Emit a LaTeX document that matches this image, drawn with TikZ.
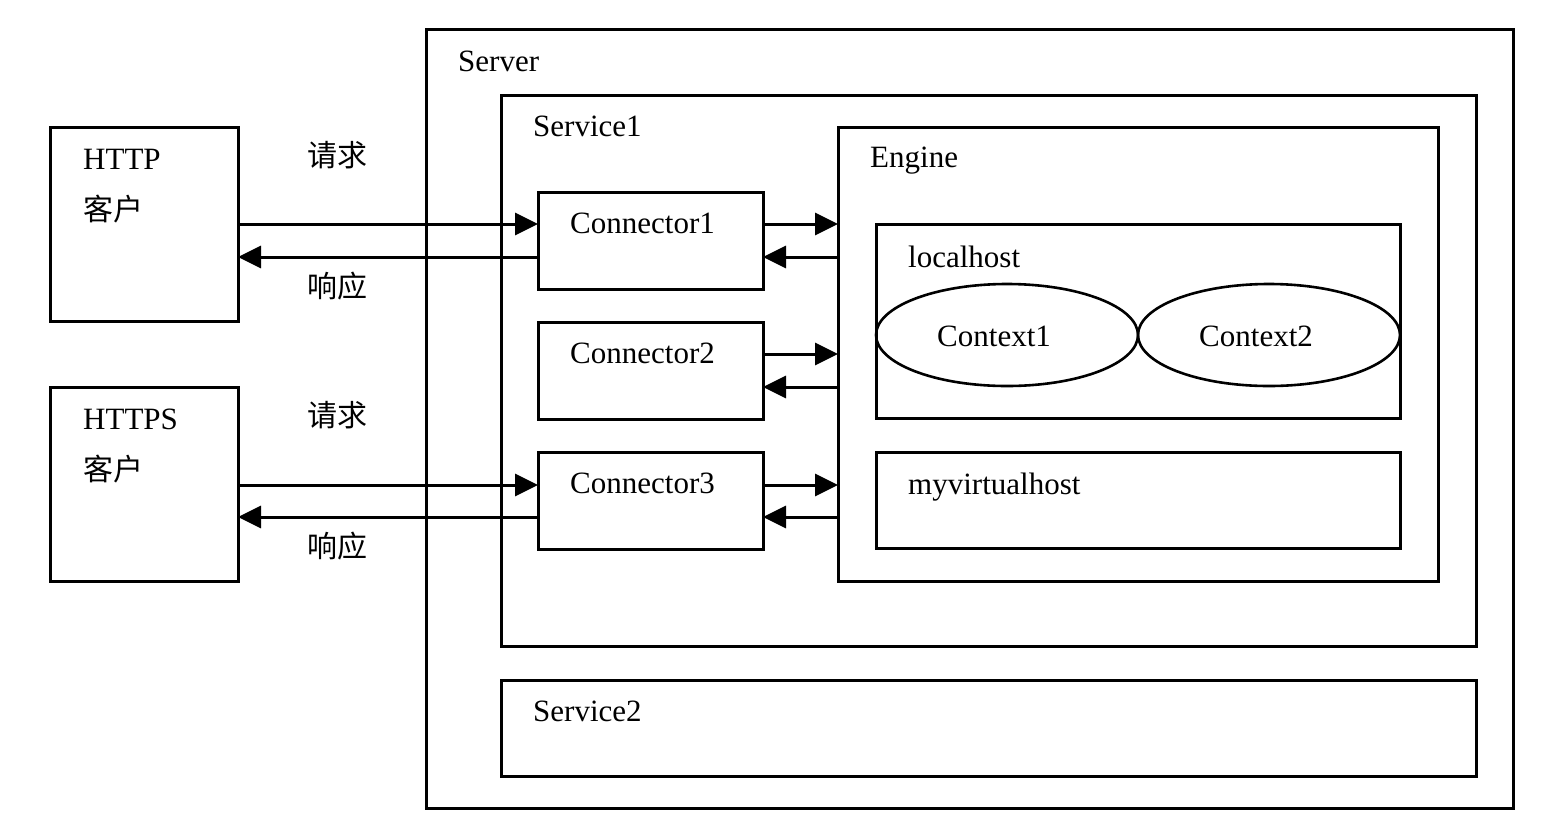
\documentclass[tikz,border=0pt]{standalone}
\usepackage{fontspec}
\setmainfont{Liberation Serif}
\newfontfamily\cjk{Noto Sans CJK SC}
\usetikzlibrary{arrows.meta,shapes.geometric}
\begin{document}
\begin{tikzpicture}[x=1pt,y=-1pt,
  box/.style={draw, line width=3pt, rectangle, inner sep=0pt, outer sep=0pt},
  oval/.style={draw, line width=2.6pt, ellipse, inner sep=0pt, outer sep=0pt},
  lbl/.style={anchor=base west, inner sep=0pt, font=\fontsize{31}{37}\selectfont},
  zh/.style={anchor=base west, inner sep=0pt, font=\cjk\fontsize{30}{36}\selectfont},
  arr/.style={line width=3pt, -{Triangle[length=23pt,width=22pt]}}]
\useasboundingbox (0,0) rectangle (1568,836);

% clients
\node[box, minimum width=188pt, minimum height=194pt] (http)  at (144,224) {};
\node[box, minimum width=188pt, minimum height=194pt] (https) at (144,484) {};
\node[lbl] (httpT)  at (83,169) {HTTP};
\node[zh]  (httpC)  at (83,220) {客户};
\node[lbl] (httpsT) at (83,429) {HTTPS};
\node[zh]  (httpsC) at (83,480) {客户};

% server and services
\node[box, minimum width=1087pt, minimum height=779pt] (server) at (969.5,418.5) {};
\node[lbl] (serverT) at (458,71) {Server};
\node[box, minimum width=975pt, minimum height=551pt] (svc1) at (988.5,370.5) {};
\node[lbl] (svc1T) at (533,136) {Service1};
\node[box, minimum width=975pt, minimum height=96pt] (svc2) at (988.5,728) {};
\node[lbl] (svc2T) at (533,721) {Service2};

% engine and hosts
\node[box, minimum width=600pt, minimum height=454pt] (engine) at (1138,354) {};
\node[lbl] (engineT) at (870,167) {Engine};
\node[box, minimum width=524pt, minimum height=194pt] (lh) at (1138,321) {};
\node[lbl] (lhT) at (908,267) {localhost};
\node[box, minimum width=524pt, minimum height=96pt] (mvh) at (1138,500) {};
\node[lbl] (mvhT) at (908,494) {myvirtualhost};
\node[oval, minimum width=262pt, minimum height=102pt] (ctx1) at (1007,335) {};
\node[oval, minimum width=262pt, minimum height=102pt] (ctx2) at (1269,335) {};
\node[lbl] (ctx1T) at (937,346) {Context1};
\node[lbl] (ctx2T) at (1199,346) {Context2};

% connectors
\node[box, minimum width=225pt, minimum height=97pt] (c1) at (650.5,240.5) {};
\node[box, minimum width=225pt, minimum height=97pt] (c2) at (650.5,370.5) {};
\node[box, minimum width=225pt, minimum height=97pt] (c3) at (650.5,500.5) {};
\node[lbl] (c1T) at (570,233) {Connector1};
\node[lbl] (c2T) at (570,363) {Connector2};
\node[lbl] (c3T) at (570,493) {Connector3};

% request / response labels
\node[zh] (req1) at (307,166) {请求};
\node[zh] (res1) at (307,297) {响应};
\node[zh] (req2) at (307,426) {请求};
\node[zh] (res2) at (307,557) {响应};

% client <-> connector
\draw[arr] (http.east |- 0,224) -- (c1.west |- 0,224);
\draw[arr] (c1.west |- 0,257) -- (http.east |- 0,257);
\draw[arr] (https.east |- 0,485) -- (c3.west |- 0,485);
\draw[arr] (c3.west |- 0,517) -- (https.east |- 0,517);

% connector <-> engine
\draw[arr] (c1.east |- 0,224) -- (engine.west |- 0,224);
\draw[arr] (engine.west |- 0,257) -- (c1.east |- 0,257);
\draw[arr] (c2.east |- 0,354) -- (engine.west |- 0,354);
\draw[arr] (engine.west |- 0,387) -- (c2.east |- 0,387);
\draw[arr] (c3.east |- 0,485) -- (engine.west |- 0,485);
\draw[arr] (engine.west |- 0,517) -- (c3.east |- 0,517);
\end{tikzpicture}
\end{document}
